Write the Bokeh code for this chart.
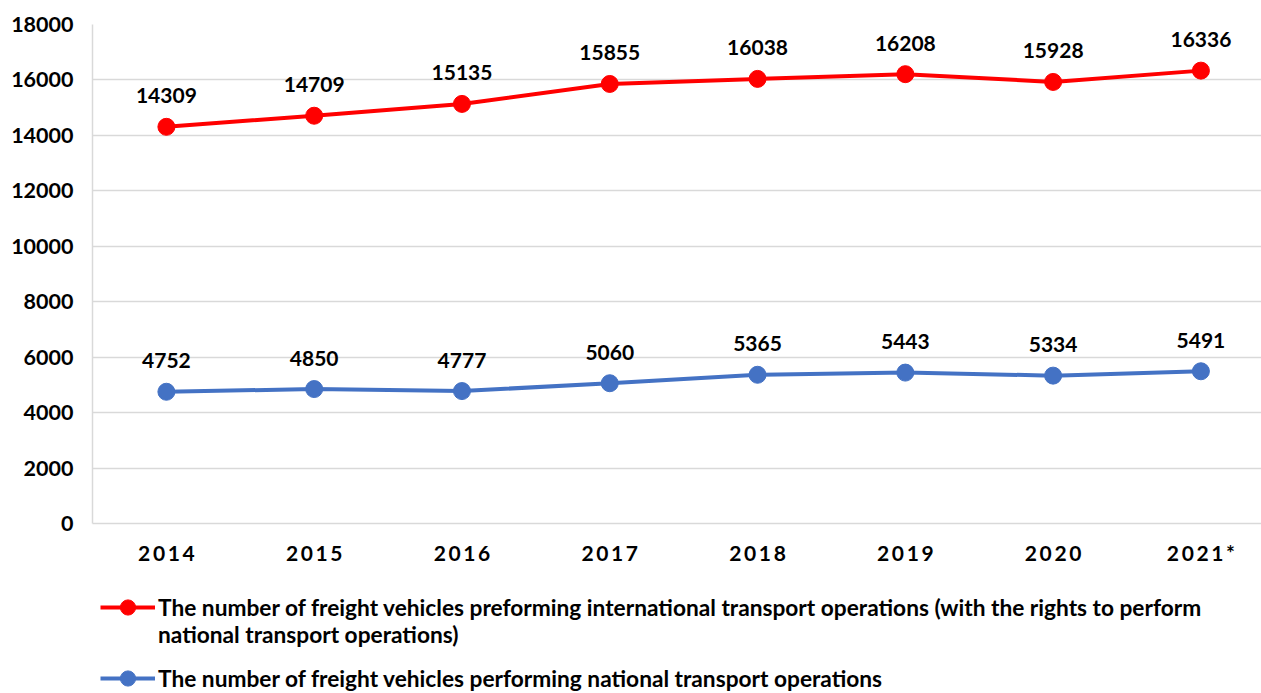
from bokeh.plotting import figure
from bokeh.layouts import column
from bokeh.models import ColumnDataSource, Range1d, FixedTicker, Legend, LegendItem
from bokeh.core.properties import value
from bokeh.embed import file_html
from bokeh.resources import INLINE

years = ["2014", "2015", "2016", "2017", "2018", "2019", "2020", "2021*"]
international = [14309, 14709, 15135, 15855, 16038, 16208, 15928, 16336]
national = [4752, 4850, 4777, 5060, 5365, 5443, 5334, 5491]
y_ticks = list(range(0, 18001, 2000))

label_intl_1 = "The number of freight vehicles preforming international transport operations (with the rights to perform"
label_intl_2 = "national transport operations)"
label_nat = "The number of freight vehicles performing national transport operations"

FONT = "Lato"
RED = "#ff0000"
BLUE = "#4472c4"
NAN = float("nan")
idx = list(range(len(years)))
src = ColumnDataSource(dict(
    x=idx, intl=international, nat=national,
    intl_t=[str(v) for v in international], nat_t=[str(v) for v in national],
))

p = figure(width=1261, height=578, output_backend="svg", toolbar_location=None,
           x_range=Range1d(-0.5, 7.41), y_range=Range1d(0, 18000),
           min_border_left=92, min_border_top=24, min_border_right=0, min_border_bottom=55)
p.outline_line_color = None

p.xgrid.grid_line_color = None
p.ygrid.grid_line_color = "#d9d9d9"
p.ygrid.grid_line_width = 1.5
p.yaxis.ticker = FixedTicker(ticks=y_ticks)
p.xaxis.ticker = FixedTicker(ticks=idx)
p.xaxis.major_label_overrides = {i: "\u2009".join(list(y)) for i, y in enumerate(years)}

for ax in (p.xaxis[0], p.yaxis[0]):
    ax.axis_line_color = "#d9d9d9"
    ax.axis_line_width = 1.5
    ax.major_tick_line_color = None
    ax.minor_tick_line_color = None
    ax.major_label_text_font = FONT
    ax.major_label_text_font_style = "bold"
    ax.major_label_text_font_size = "21px"
    ax.major_label_text_color = "black"
p.yaxis.major_label_text_font_size = "21.5px"
p.yaxis.major_label_standoff = 13
p.xaxis.major_label_standoff = 10

p.line("x", "intl", source=src, line_color=RED, line_width=4)
p.scatter("x", "intl", source=src, size=17, fill_color=RED, line_color=RED)
p.line("x", "nat", source=src, line_color=BLUE, line_width=4)
p.scatter("x", "nat", source=src, size=17, fill_color=BLUE, line_color=BLUE)

for col, tcol in (("intl", "intl_t"), ("nat", "nat_t")):
    p.text("x", col, text=tcol, source=src, y_offset=-31, text_align="center",
           text_baseline="middle", text_font=value(FONT), text_font_style="bold",
           text_font_size="21px", text_color="black")

# legend panel below the chart (frame is aligned with the chart frame by the column)
p2 = figure(width=1261, height=115, output_backend="svg", toolbar_location=None,
            x_range=Range1d(0, 1), y_range=Range1d(0, 1),
            min_border_left=0, min_border_right=0, min_border_top=0, min_border_bottom=0)
p2.axis.visible = False
p2.grid.visible = False
p2.outline_line_color = None
g1l = p2.line([NAN], [NAN], line_color=RED, line_width=4)
g1c = p2.scatter([NAN], [NAN], fill_color=RED, line_color=RED)
g0 = p2.line([NAN], [NAN], line_alpha=0)
g2l = p2.line([NAN], [NAN], line_color=BLUE, line_width=4)
g2c = p2.scatter([NAN], [NAN], fill_color=BLUE, line_color=BLUE)


def make_legend(label, renderers, loc, gh):
    lg = Legend(items=[LegendItem(label=label, renderers=renderers)],
                location=loc, orientation="vertical")
    lg.label_text_font = FONT
    lg.label_text_font_style = "bold"
    lg.label_text_font_size = "22.7px"
    lg.label_text_color = "black"
    lg.label_height = 27
    lg.glyph_height = gh
    lg.glyph_width = 55
    lg.label_standoff = 3
    lg.spacing = 0
    lg.border_line_color = None
    lg.background_fill_alpha = 0
    lg.margin = 0
    lg.padding = 0
    p2.add_layout(lg, "center")
    return lg


make_legend(label_intl_1, [g1l, g1c], (8, 67), 38)
make_legend(label_intl_2, [g0], (8, 45.5), 20)
make_legend(label_nat, [g2l, g2c], (8, -4), 38)

open("out.html", "w").write(file_html(column(p, p2, spacing=0), INLINE))
